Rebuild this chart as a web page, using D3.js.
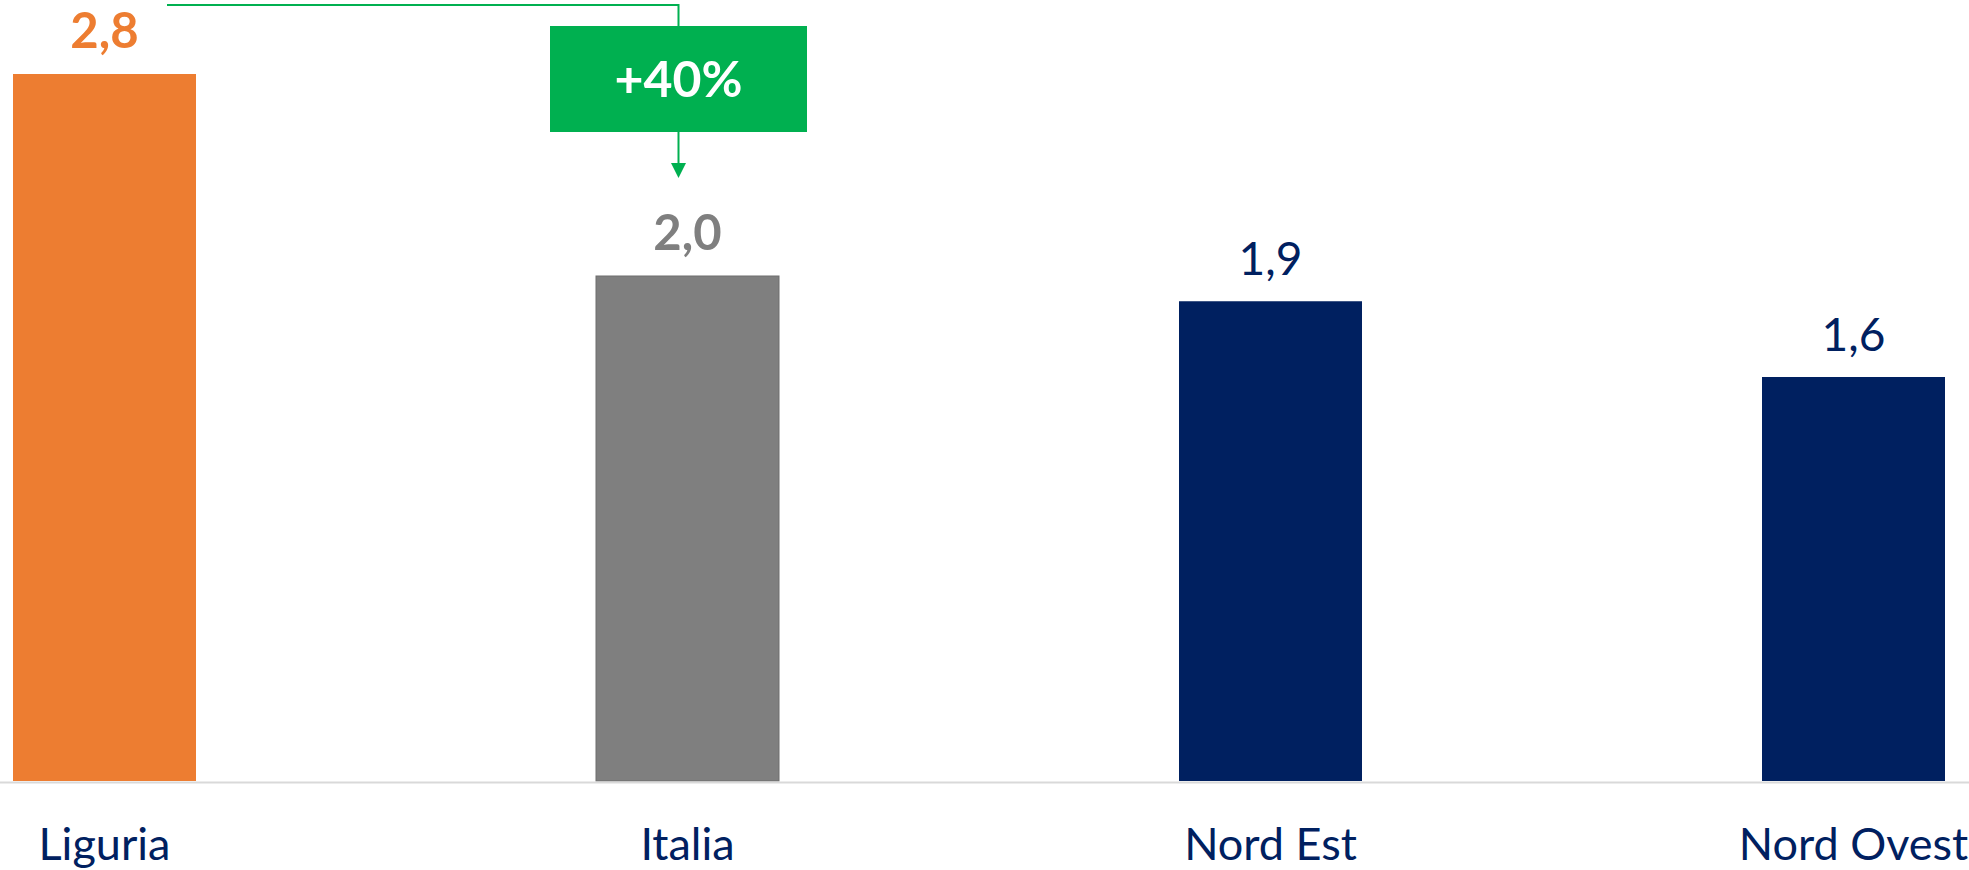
<!DOCTYPE html>
<meta charset="utf-8">
<style>
body { margin: 0; background: #fff; }
svg text { font-family: Lato, "Open Sans", sans-serif; }
</style>
<body>
<div id="chart"></div>
<script src="https://d3js.org/d3.v7.min.js"></script>
<script>

// data
var categories = ["Liguria", "Italia", "Nord Est", "Nord Ovest"];
var values = [2.8, 2.0, 1.9, 1.6];
var valueLabels = ["2,8", "2,0", "1,9", "1,6"];
var deltaLabel = "+40%";

var width = 1969, height = 870;
var barColors = ["#ED7D31", "#7F7F7F", "#002060", "#002060"];
var labelColors = ["#ED7D31", "#7F7F7F", "#002060", "#002060"];
var labelWeights = ["bold", "bold", "normal", "normal"];
var green = "#00B050";

var svg = d3.select("#chart").append("svg")
    .attr("width", width)
    .attr("height", height);

// scales
var x = d3.scaleBand()
    .domain(categories)
    .range([13, 1945])
    .paddingInner(400 / 583)
    .paddingOuter(0);

var y = d3.scaleLinear()
    .domain([0, 2.8])
    .range([781, 74]);

var data = categories.map(function(c, i) {
    return {cat: c, v: values[i], lab: valueLabels[i], i: i};
});

// bars
svg.selectAll("rect.bar")
    .data(data)
    .enter().append("rect")
    .attr("class", "bar")
    .attr("x", function(d) { return x(d.cat); })
    .attr("y", function(d) { return y(d.v); })
    .attr("width", x.bandwidth())
    .attr("height", function(d) { return y(0) - y(d.v); })
    .style("fill", function(d) { return barColors[d.i]; })
    .style("stroke", function(d) { return d.i == 1 ? "#6e6e6e" : "none"; })
    .style("stroke-width", 1);

// baseline
svg.append("line")
    .attr("x1", 0)
    .attr("x2", width)
    .attr("y1", y(0) + 1.5)
    .attr("y2", y(0) + 1.5)
    .style("stroke", "#d9d9d9")
    .style("stroke-width", 2);

// value labels
svg.selectAll("text.val")
    .data(data)
    .enter().append("text")
    .attr("class", "val")
    .attr("x", function(d) { return x(d.cat) + x.bandwidth() / 2; })
    .attr("y", function(d) { return y(d.v) - 26; })
    .attr("text-anchor", "middle")
    .style("font-size", function(d) { return d.i < 2 ? "49px" : "46px"; })
    .style("font-weight", function(d) { return labelWeights[d.i]; })
    .style("fill", function(d) { return labelColors[d.i]; })
    .text(function(d) { return d.lab; });

// category labels
svg.selectAll("text.cat")
    .data(data)
    .enter().append("text")
    .attr("class", "cat")
    .attr("x", function(d) { return x(d.cat) + x.bandwidth() / 2; })
    .attr("y", 860)
    .attr("text-anchor", "middle")
    .style("font-size", "45px")
    .style("fill", "#002060")
    .text(function(d) { return d.cat; });

// annotation: Liguria vs Italia
var ax = x("Italia") + x.bandwidth() / 2 - 9;
var topY = y(values[0]) - 69;
var boxW = 257, boxH = 106, boxY = topY + 21;
var tipY = y(values[1]) - 98;

svg.append("path")
    .attr("d", "M" + (x("Liguria") + x.bandwidth() - 29) + "," + topY +
               "H" + ax + "V" + boxY)
    .style("fill", "none")
    .style("stroke", green)
    .style("stroke-width", 2);

svg.append("line")
    .attr("x1", ax).attr("x2", ax)
    .attr("y1", boxY + boxH)
    .attr("y2", tipY - 14)
    .style("stroke", green)
    .style("stroke-width", 2);

svg.append("path")
    .attr("d", "M" + (ax - 7.5) + "," + (tipY - 15) + "L" + (ax + 7.5) + "," + (tipY - 15) +
               "L" + ax + "," + tipY + "Z")
    .style("fill", green);

svg.append("rect")
    .attr("x", ax - boxW / 2)
    .attr("y", boxY)
    .attr("width", boxW)
    .attr("height", boxH)
    .style("fill", green);

svg.append("text")
    .attr("x", ax)
    .attr("y", boxY + 71)
    .attr("text-anchor", "middle")
    .style("font-size", "50px")
    .style("font-weight", "bold")
    .style("fill", "#fff")
    .text(deltaLabel);

</script>
</body>
